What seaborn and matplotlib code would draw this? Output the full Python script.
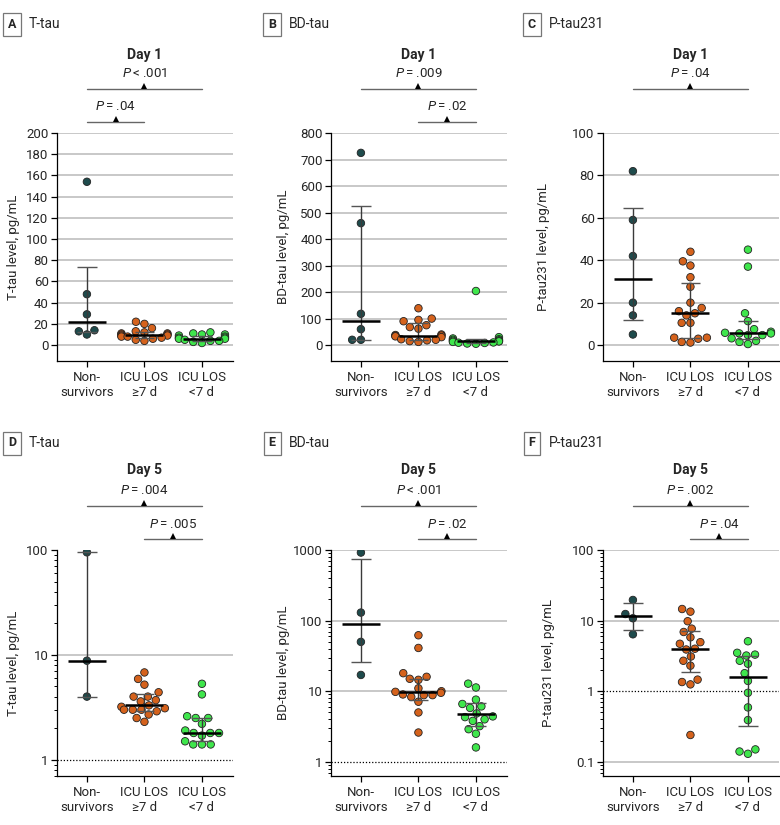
import numpy as np
import pandas as pd
import matplotlib
matplotlib.use("Agg")
import matplotlib.pyplot as plt
import matplotlib.transforms as mtransforms
from matplotlib import font_manager as fm
from matplotlib.ticker import FixedLocator, FuncFormatter, LogLocator, NullFormatter
import seaborn as sns

sns.set_theme(style="white")
_names = {f.name for f in fm.fontManager.ttflist}
BASE = next(f for f in ["Liberation Sans Narrow", "Roboto", "DejaVu Sans"] if f in _names)
plt.rcParams["font.family"] = [BASE, "DejaVu Sans"]
plt.rcParams["mathtext.fontset"] = "custom"
plt.rcParams["mathtext.rm"] = BASE
plt.rcParams["mathtext.it"] = BASE + ":italic"

# ---------------- data ----------------
groups = ["Non-survivors", "ICU LOS ≥7 d", "ICU LOS <7 d"]
group_labels = ["Non-\nsurvivors", "ICU LOS\n≥7 d", "ICU LOS\n<7 d"]
colors = ["#1e4b4c", "#d5621c", "#3fe64c"]

# Panel A: T-tau day 1
a_non = [154, 48, 29, 14, 10, 13]
a_ge7 = [22, 20, 16, 13, 12, 11, 11, 10, 10, 9, 9, 8, 8, 7, 6, 5, 4]
a_lt7 = [12, 11, 10, 10, 9, 8, 7, 7, 6, 6, 5, 4, 4, 3, 2]
a_med = [21.5, 9.5, 6]
a_q1 = [12.5, 7, 4]
a_q3 = [74, 12, 9]

# Panel B: BD-tau day 1
b_non = [725, 460, 118, 60, 20, 20]
b_ge7 = [139, 100, 95, 90, 75, 68, 62, 40, 38, 36, 35, 33, 30, 22, 20, 18, 15, 12]
b_lt7 = [204, 30, 25, 22, 20, 18, 16, 15, 14, 12, 10, 9, 8, 6, 5]
b_med = [89, 36, 15]
b_q1 = [20, 20, 9]
b_q3 = [525, 82, 22]

# Panel C: P-tau231 day 1
c_non = [82, 59, 42, 20, 14, 5]
c_ge7 = [44, 39.5, 37.5, 32, 27.5, 20, 17.5, 16, 15, 14, 10.5, 10.5, 3.5, 3, 3.5, 1.5, 1.2]
c_lt7 = [45, 37, 15, 11.3, 7.5, 6.3, 5.8, 5.5, 5.5, 4.7, 4.7, 3.2, 2, 1.5, 0.5]
c_med = [31, 15.3, 5.8]
c_q1 = [11.6, 3.2, 3]
c_q3 = [64.5, 29.5, 11.3]

# Panel D: T-tau day 5
d_non = [95, 8.8, 4.0]
d_ge7 = [6.8, 5.9, 5.2, 4.4, 4.0, 4.0, 3.7, 3.6, 3.3, 3.2, 3.1, 3.0, 3.0, 3.0, 2.9, 2.7, 2.5, 2.3]
d_lt7 = [5.3, 4.2, 2.6, 2.5, 2.5, 2.2, 1.9, 1.8, 1.8, 1.8, 1.7, 1.5, 1.4, 1.4, 1.4]
d_med = [8.8, 3.3, 1.8]
d_q1 = [4.0, 2.9, 1.5]
d_q3 = [95, 4.2, 2.5]

# Panel E: BD-tau day 5
e_non = [920, 130, 50, 17]
e_ge7 = [62, 41, 18, 16, 15, 14.5, 11, 10, 9.8, 9.5, 9, 8.8, 8.8, 8.3, 7.1, 5, 2.6]
e_lt7 = [12.8, 11.3, 7.6, 6.6, 6.1, 5.8, 4.85, 4.4, 4.3, 4.0, 3.8, 3.2, 2.9, 2.5, 1.6]
e_med = [90, 9.6, 4.7]
e_q1 = [26, 7.5, 3.2]
e_q3 = [750, 15, 6.9]

# Panel F: P-tau231 day 5
f_non = [19.6, 12.4, 10.8, 6.4]
f_ge7 = [14.6, 13.4, 9.8, 7.7, 6.9, 5.8, 4.95, 4.7, 4.0, 3.9, 3.1, 2.7, 2.3, 1.35, 1.46, 1.25, 0.24]
f_lt7 = [5.1, 3.5, 3.3, 3.2, 2.7, 2.45, 1.8, 1.4, 0.95, 0.59, 0.39, 0.15, 0.14, 0.13]
f_med = [11.5, 4.0, 1.59]
f_q1 = [7.4, 1.9, 0.32]
f_q3 = [17.6, 7.2, 3.2]

panels = [
    dict(letter="A", name="T-tau", day="Day 1", ylabel="T-tau level, pg/mL",
         data=[a_non, a_ge7, a_lt7], med=a_med, q1=a_q1, q3=a_q3, log=False,
         ylim=(-15, 200), ticks=[0, 20, 40, 60, 80, 100, 120, 140, 160, 180, 200],
         grid=[0, 20, 40, 60, 80, 100, 120, 140, 160, 180, 200],
         pvals=[("<.001", 0, 2), ("=.04", 0, 1)], ylx=-0.21),
    dict(letter="B", name="BD-tau", day="Day 1", ylabel="BD-tau level, pg/mL",
         data=[b_non, b_ge7, b_lt7], med=b_med, q1=b_q1, q3=b_q3, log=False,
         ylim=(-60, 800), ticks=[0, 100, 200, 300, 400, 500, 600, 700, 800],
         grid=[0, 100, 200, 300, 400, 500, 600, 700, 800],
         pvals=[("=.009", 0, 2), ("=.02", 1, 2)], ylx=-0.235),
    dict(letter="C", name="P-tau231", day="Day 1", ylabel="P-tau231 level, pg/mL",
         data=[c_non, c_ge7, c_lt7], med=c_med, q1=c_q1, q3=c_q3, log=False,
         ylim=(-7.5, 100), ticks=[0, 20, 40, 60, 80, 100],
         grid=[0, 20, 40, 60, 80, 100],
         pvals=[("=.04", 0, 2)], ylx=-0.30),
    dict(letter="D", name="T-tau", day="Day 5", ylabel="T-tau level, pg/mL",
         data=[d_non, d_ge7, d_lt7], med=d_med, q1=d_q1, q3=d_q3, log=True,
         ylim=(0.7, 100), ticks=[1, 10, 100], grid=[10],
         pvals=[("=.004", 0, 2), ("=.005", 1, 2)], ylx=-0.21),
    dict(letter="E", name="BD-tau", day="Day 5", ylabel="BD-tau level, pg/mL",
         data=[e_non, e_ge7, e_lt7], med=e_med, q1=e_q1, q3=e_q3, log=True,
         ylim=(0.63, 1000), ticks=[1, 10, 100, 1000], grid=[10, 100, 1000],
         pvals=[("<.001", 0, 2), ("=.02", 1, 2)], ylx=-0.235),
    dict(letter="F", name="P-tau231", day="Day 5", ylabel="P-tau231 level, pg/mL",
         data=[f_non, f_ge7, f_lt7], med=f_med, q1=f_q1, q3=f_q3, log=True,
         ylim=(0.063, 100), ticks=[0.1, 1, 10, 100], grid=[0.1, 10, 100],
         pvals=[("=.002", 0, 2), ("=.04", 1, 2)], ylx=-0.27),
]

W, H = 780, 825
fig = plt.figure(figsize=(W / 100, H / 100), dpi=100)

lefts = [57, 331, 603]
axw = 176
rows = [(133, 361), (550, 776)]

for k, p in enumerate(panels):
    r, c = divmod(k, 3)
    top, bot = rows[r]
    ax = fig.add_axes([lefts[c] / W, 1 - bot / H, axw / W, (bot - top) / H])
    if p["log"]:
        ax.set_yscale("log")
    ax.set_ylim(*p["ylim"])
    ax.set_xlim(-0.52, 2.54)

    for g in p["grid"]:
        ax.axhline(g, color="#c4c4c4", lw=1.3, zorder=0)
    if p["log"]:
        ax.axhline(1, color="black", lw=0.9, ls=(0, (1, 1.5)), zorder=0.5)

    df = pd.DataFrame({
        "group": sum([[g] * len(v) for g, v in zip(groups, p["data"])], []),
        "value": sum([list(v) for v in p["data"]], []),
    })
    sns.swarmplot(data=df, x="group", y="value", hue="group", order=groups,
                  hue_order=groups, palette=colors, size=5.4, edgecolor="#222222",
                  linewidth=0.6, legend=False, ax=ax, zorder=3)
    ax.set_xlim(-0.52, 2.54)
    ax.set_ylim(*p["ylim"])

    for i in range(3):
        ax.vlines(i, p["q1"][i], p["q3"][i], color="#3a3a3a", lw=1.0, zorder=4)
        ax.hlines([p["q1"][i], p["q3"][i]], i - 0.17, i + 0.17, color="#555555", lw=1.0, zorder=4)
        ax.hlines(p["med"][i], i - 0.33, i + 0.33, color="black", lw=1.8, zorder=5)

    for s in ["top", "right"]:
        ax.spines[s].set_visible(False)
    for s in ["left", "bottom"]:
        ax.spines[s].set_color("black")
        ax.spines[s].set_linewidth(0.9)

    ax.yaxis.set_major_locator(FixedLocator(p["ticks"]))
    ax.yaxis.set_major_formatter(FuncFormatter(lambda v, pos: f"{v:g}"))
    if p["log"]:
        ax.yaxis.set_minor_locator(LogLocator(base=10, subs=np.arange(2, 10)))
        ax.yaxis.set_minor_formatter(NullFormatter())
    ax.tick_params(axis="y", which="major", direction="out", length=4, width=0.9,
                   color="black", labelsize=9.5, pad=2, left=True)
    ax.tick_params(axis="y", which="minor", direction="out", length=2.5, width=0.7,
                   color="black", left=True)
    ax.set_xticks([0, 1, 2])
    ax.set_xticklabels(group_labels)
    ax.tick_params(axis="x", direction="out", length=4, width=0.9, color="black",
                   labelsize=9.5, pad=3, bottom=True)
    ax.set_xlabel("")
    ax.set_ylabel(p["ylabel"], fontsize=9.5)
    ax.yaxis.set_label_coords(p["ylx"], 0.5)

    h = bot - top
    fy = lambda px: 1 + (top - px) / h
    tr = ax.get_xaxis_transform()
    tri_tr = mtransforms.offset_copy(tr, fig=fig, y=2.2, units="points")

    day_y = top - 80 if r else top - 78
    ax.text(1, fy(day_y), p["day"], transform=tr, ha="center", va="center",
            fontsize=10, fontweight="bold", clip_on=False)

    line_px = [top - 44, top - 11]
    for j, (ptxt, x0, x1) in enumerate(p["pvals"]):
        ly = fy(line_px[j])
        ax.plot([x0, x1], [ly, ly], transform=tr, color="#666666", lw=1.0, clip_on=False)
        xm = (x0 + x1) / 2
        ax.plot([xm], [ly], transform=tri_tr, marker="^", color="black", ms=5,
                clip_on=False, mew=0)
        label = r"$P$" + "\u2009" + ptxt[0] + "\u2009" + ptxt[1:]
        ax.text(xm, fy(line_px[j] - 15), label,
                transform=tr, ha="center", va="center", fontsize=9.5, clip_on=False)

    # panel label
    lx = [12, 272, 532][c]
    lyp = [24, 443][r]
    fig.text(lx / W, 1 - lyp / H, p["letter"], ha="center", va="center", fontsize=9,
             fontweight="bold",
             bbox=dict(boxstyle="square,pad=0.4", fc="white", ec="#777777", lw=0.9))
    fig.text((lx + 17) / W, 1 - lyp / H, p["name"], ha="left", va="center", fontsize=10)

fig.savefig("out.png", dpi=100)
